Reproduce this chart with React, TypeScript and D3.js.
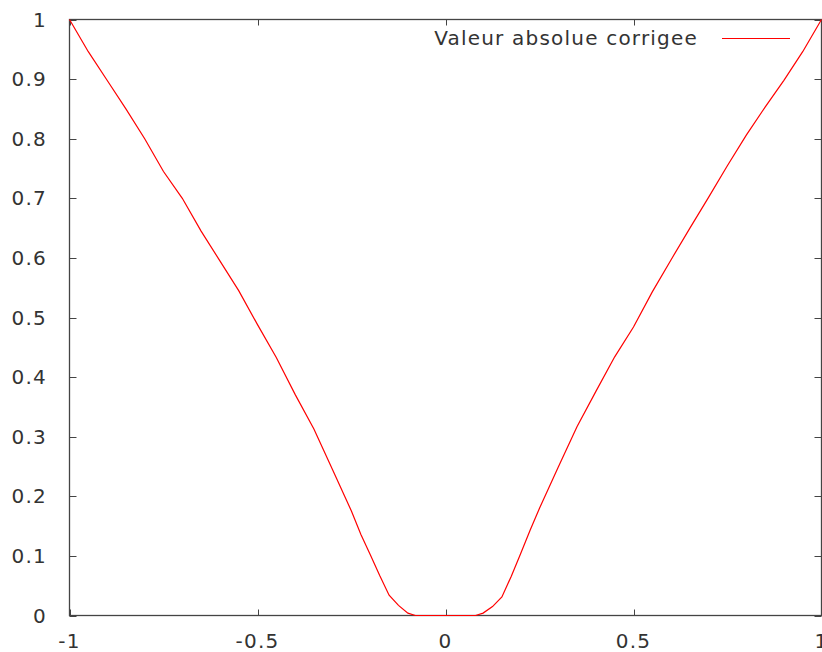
import React from 'react';
import * as d3 from 'd3';

// values ("valeur absolue corrigee")
const xValues = [
  -1, -0.95, -0.9, -0.85, -0.8, -0.75, -0.7, -0.65, -0.6, -0.55, -0.5, -0.45, -0.4,
  -0.35, -0.3, -0.25, -0.225, -0.2, -0.175, -0.15, -0.125, -0.1, -0.08, 0, 0.08,
  0.1, 0.125, 0.15, 0.175, 0.2, 0.225, 0.25, 0.3, 0.35, 0.4, 0.45, 0.5, 0.55, 0.6,
  0.65, 0.7, 0.75, 0.8, 0.85, 0.9, 0.95, 1,
];
const yValues = [
  1, 0.946, 0.898, 0.85, 0.8, 0.745, 0.7, 0.645, 0.595, 0.545, 0.488, 0.433, 0.371,
  0.313, 0.244, 0.175, 0.136, 0.102, 0.067, 0.034, 0.017, 0.004, 0, 0, 0,
  0.004, 0.015, 0.031, 0.066, 0.104, 0.143, 0.18, 0.249, 0.317, 0.376, 0.434, 0.484,
  0.543, 0.597, 0.65, 0.702, 0.755, 0.806, 0.853, 0.898, 0.946, 1,
];
const xTicks = [-1, -0.5, 0, 0.5, 1];
const yTicks = [0, 0.1, 0.2, 0.3, 0.4, 0.5, 0.6, 0.7, 0.8, 0.9, 1];
const seriesName = 'Valeur absolue corrigee';

const W = 822;
const H = 652;
const left = 69.5, right = 821.5, top = 19.5, bottom = 615.5;
const font = "'DejaVu Sans', sans-serif";

export default function App() {
  const x = d3.scaleLinear().domain([-1, 1]).range([left, right]);
  const y = d3.scaleLinear().domain([0, 1]).range([bottom, top]);
  const pts: [number, number][] = xValues.map((v, i) => [v, yValues[i]]);
  const line = d3.line<[number, number]>()
    .x(d => x(d[0]))
    .y(d => y(d[1]));

  const axisColor = '#444';
  const textColor = '#333';

  return (
    <svg width={W} height={H} style={{ position: 'absolute', left: 0, top: 0, background: '#fff' }}>
      <rect x={0} y={0} width={W} height={H} fill="#fff" />
      {/* ticks, mirrored on all sides */}
      {yTicks.map(t => (
        <g key={'y' + t}>
          <line x1={left} x2={left + 7} y1={Math.round(y(t)) + 0.5} y2={Math.round(y(t)) + 0.5} stroke={axisColor} />
          <line x1={right} x2={right - 7} y1={Math.round(y(t)) + 0.5} y2={Math.round(y(t)) + 0.5} stroke={axisColor} />
          <text x={47} y={y(t)} dy="0.35em" textAnchor="end" fontFamily={font} fontSize={20}
            letterSpacing={1.2} fill={textColor}>{t}</text>
        </g>
      ))}
      {xTicks.map(t => (
        <g key={'x' + t}>
          <line x1={Math.round(x(t)) + 0.5} x2={Math.round(x(t)) + 0.5} y1={bottom} y2={bottom - 6} stroke={axisColor} />
          <line x1={Math.round(x(t)) + 0.5} x2={Math.round(x(t)) + 0.5} y1={top} y2={top + 6} stroke={axisColor} />
          <text x={x(t)} y={648} textAnchor="middle" fontFamily={font} fontSize={20}
            letterSpacing={1.2} fill={textColor}>{t}</text>
        </g>
      ))}
      <rect x={left} y={top} width={right - left} height={bottom - top} fill="none" stroke={axisColor} strokeWidth={1.3} />
      {/* legend */}
      <text x={698} y={38} dy="0.35em" textAnchor="end" fontFamily={font} fontSize={20}
        letterSpacing={1.2} fill={textColor}>{seriesName}</text>
      <line x1={722} x2={790} y1={38.5} y2={38.5} stroke="#ff0000" strokeWidth={1.2} />
      <path d={line(pts) ?? ''} fill="none" stroke="#ff0000" strokeWidth={1.2} />
    </svg>
  );
}
